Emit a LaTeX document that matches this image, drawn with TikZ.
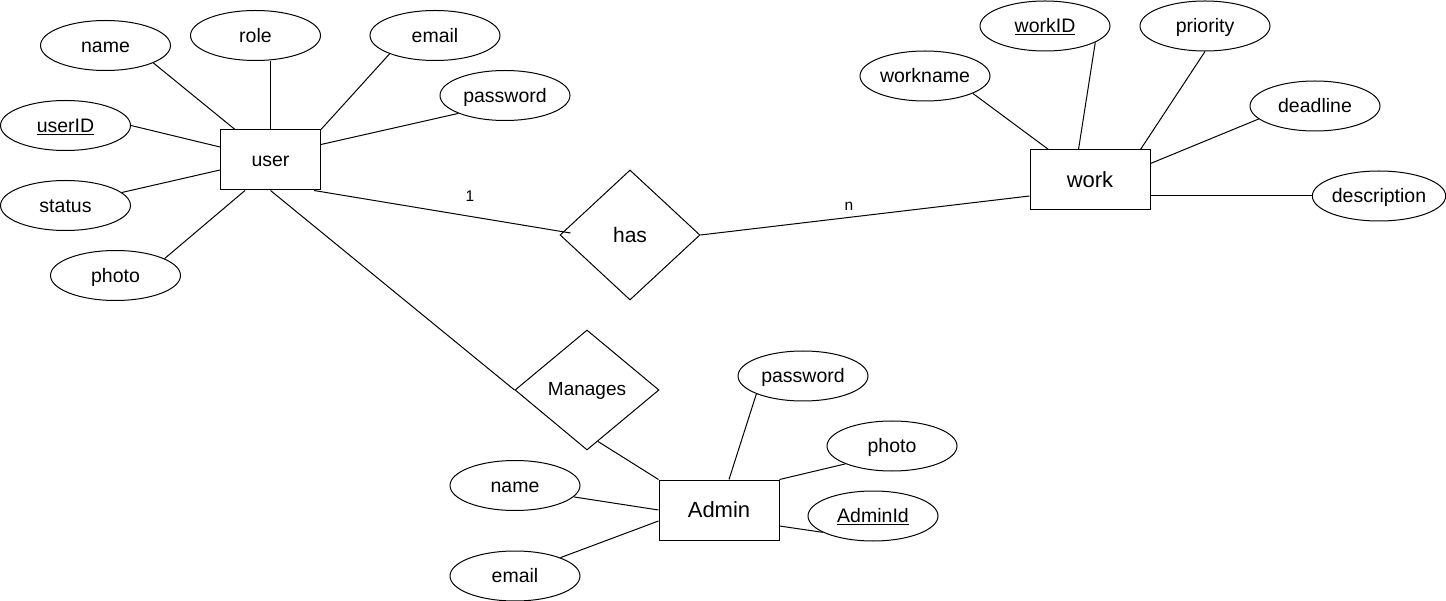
\documentclass[tikz,border=0pt]{standalone}
\usepackage{fontspec}
\setmainfont{Liberation Sans}
\usetikzlibrary{shapes.geometric,calc}
\tikzset{
  attr/.style={draw, ellipse, minimum width=130pt, minimum height=50pt, inner sep=0pt, text height=15.5pt, text depth=2pt, font=\fontsize{19.5}{23}\selectfont},
  entity/.style={draw, rectangle, minimum width=120pt, minimum height=60pt, inner sep=0pt, font=\fontsize{22}{26}\selectfont},
  rel/.style={draw, diamond, inner sep=0pt},
  conn/.style={draw},
  card/.style={font=\fontsize{15.5}{18}\selectfont, inner sep=0pt}
}
\begin{document}
\begin{tikzpicture}[x=1pt,y=-1pt, line width=1pt]
\fill[white] (0,0) rectangle (1446,601);
\useasboundingbox (0,0) rectangle (1446,601);

% entities
\node[entity, minimum width=100pt, text height=16pt, text depth=2pt, font=\fontsize{19.5}{23}\selectfont] (user) at (270.5,160) {user};
\node[entity] (work) at (1090,180) {work};
\node[entity] (admin) at (719,510) {Admin};

% relationships
\node[rel, minimum width=140pt, minimum height=130pt, font=\fontsize{21}{25}\selectfont] (has) at (630,235) {has};
\node[rel, minimum width=144pt, minimum height=120pt, text height=14.5pt, text depth=3.5pt, font=\fontsize{19}{23}\selectfont] (manages) at (587,390) {Manages};

% user attributes
\node[attr] (uname) at (105.5,45.5) {name};
\node[attr] (urole) at (255.5,35.5) {role};
\node[attr] (uemail) at (435,35.5) {email};
\node[attr] (upass) at (505,95.5) {password};
\node[attr] (uid) at (65.5,125.5) {\underline{userID}};
\node[attr] (ustatus) at (65.5,205.5) {status};
\node[attr] (uphoto) at (115.5,275.5) {photo};

% work attributes
\node[attr] (wname) at (925,76) {workname};
\node[attr] (wid) at (1045,26) {\underline{workID}};
\node[attr] (wprio) at (1205,26) {priority};
\node[attr] (wdead) at (1315,106) {deadline};
\node[attr] (wdesc) at (1379,196) {description};

% admin attributes
\node[attr] (apass) at (803,376) {password};
\node[attr] (aphoto) at (892,446) {photo};
\node[attr] (aid) at (873,516) {\underline{AdminId}};
\node[attr] (aname) at (515,485.5) {name};
\node[attr] (aemail) at (515,576) {email};

% user connectors
\draw[conn] (uname.-20) -- ([xshift=15pt]user.north west);
\draw[conn] (urole.south -| user.north) -- (user.north);
\draw[conn] (uemail.-158) -- (user.north east);
\draw[conn] (upass.-159) -- ([yshift=-15pt]user.north east);
\draw[conn] (uid.east) -- ([yshift=-17.5pt]user.north west);
\draw[conn] (ustatus.13) -- ([yshift=-40.5pt]user.north west);
\draw[conn] (uphoto.19) -- ([xshift=25pt]user.south west);

% relationships connectors
\draw[conn] ([xshift=-7pt]user.south east) -- ([xshift=11pt,yshift=2pt]has.west);
\draw[conn] (has.east) -- ([yshift=-16pt]work.west);
\draw[conn] (user.south) -- (manages.west);
\draw[conn] ($(manages.south)!0.15!(manages.east)$) -- (admin.north west);

% work connectors
\draw[conn] (wname.-20) -- ([xshift=19pt]work.north west);
\draw[conn] (wid.-18) -- ([xshift=49pt]work.north west);
\draw[conn] (wprio.south) -- ([xshift=-10pt]work.north east);
\draw[conn] (wdead.-167) -- ([yshift=-14pt]work.north east);
\draw[conn] (wdesc.west) -- (wdesc.west -| work.east);

% admin connectors
\draw[conn] (apass.-159) -- ([xshift=10pt]admin.north);
\draw[conn] (aphoto.-159) -- (admin.north east);
\draw[conn] (aid.-162) -- ([yshift=-16pt]admin.east);
\draw[conn] (aname.-11) -- (admin.west);
\draw[conn] (aemail.22) -- ([yshift=-11pt]admin.west);

% cardinalities
\node[card] (c1) at (470,196) {1};
\node[card] (cn) at (849,206) {n};
\end{tikzpicture}
\end{document}
